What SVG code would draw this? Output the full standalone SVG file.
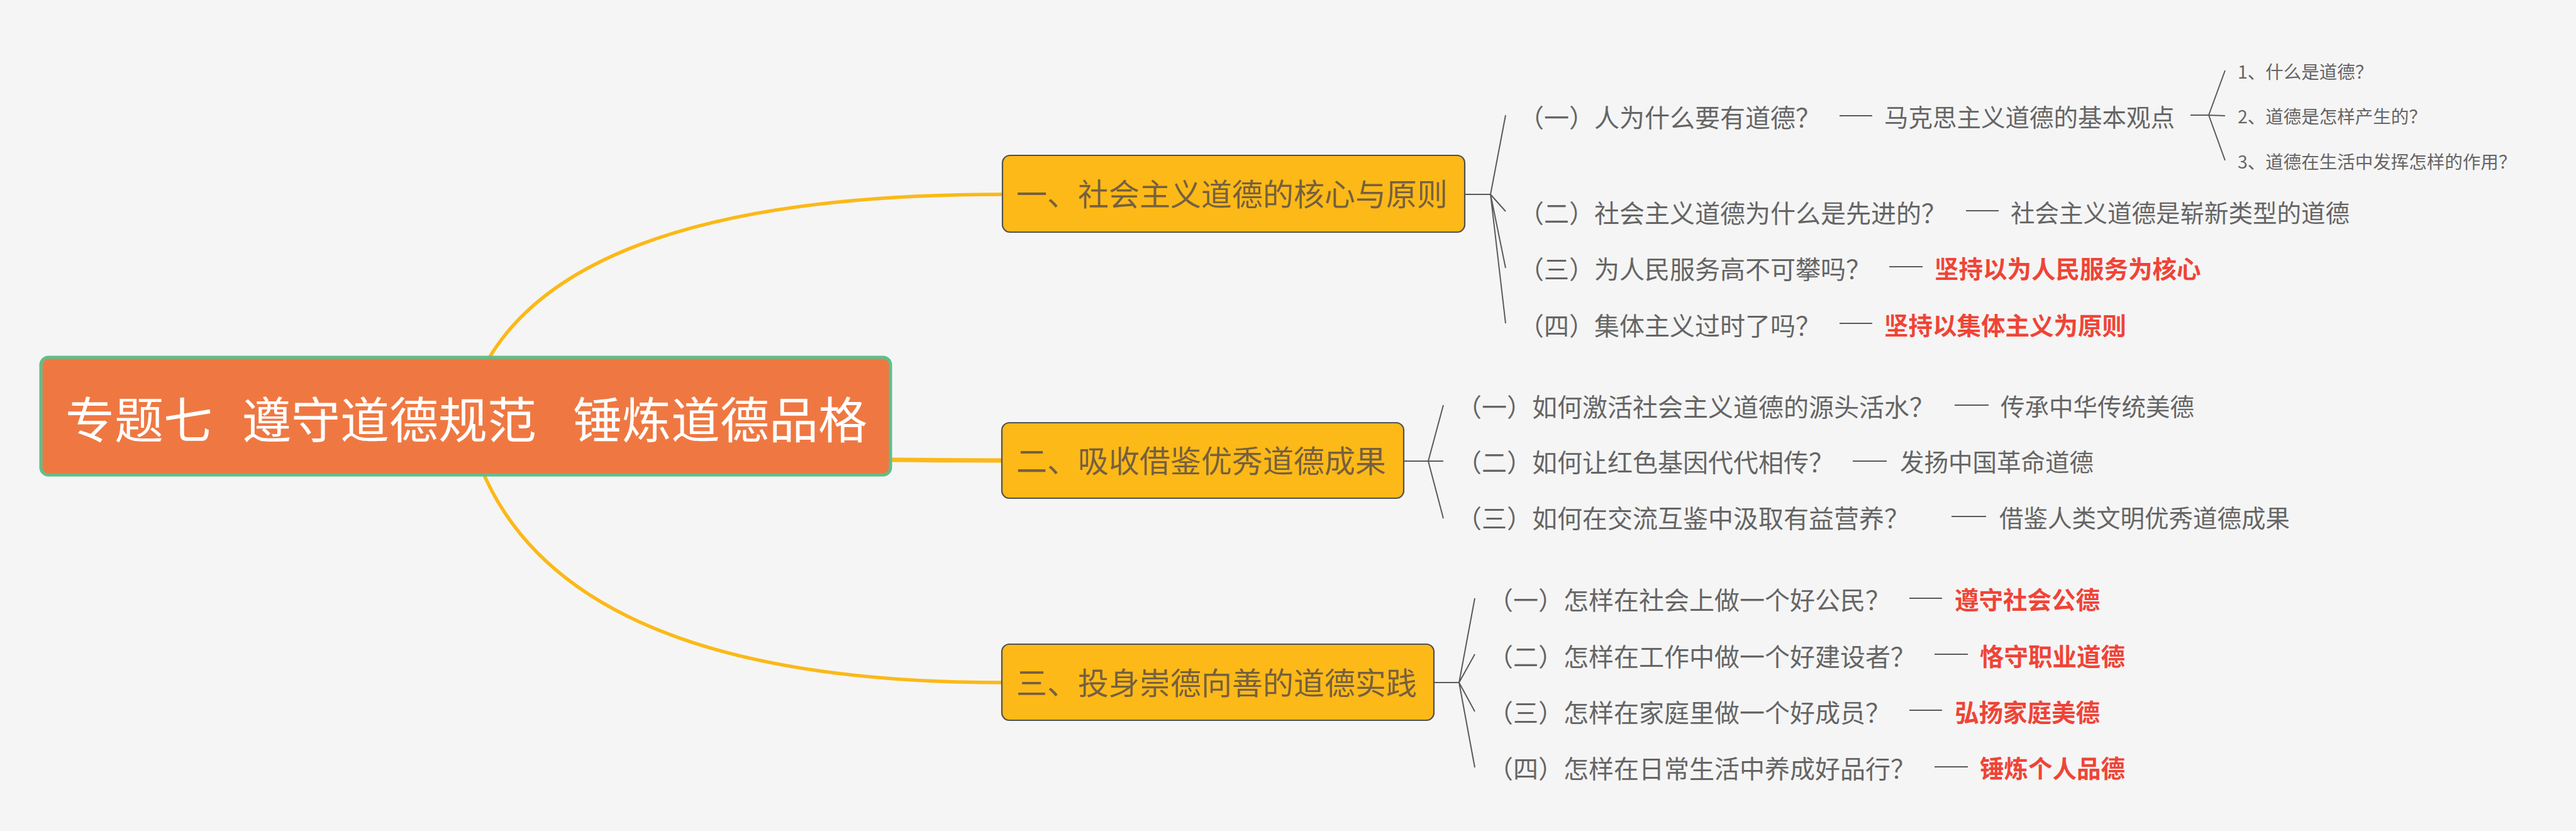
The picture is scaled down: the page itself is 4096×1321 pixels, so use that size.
<svg xmlns="http://www.w3.org/2000/svg" width="4096" height="1321" viewBox="0 0 4096 1321">
<style>
text{font-family:"Noto Sans CJK SC","Noto Sans",sans-serif;}
.root{fill:#ef7842;stroke:#5fbf8b;stroke-width:5;}
.rt{fill:#ffffff;font-size:78px;}
.main{fill:#fcb918;stroke:#505050;stroke-width:2.2;}
.mt{fill:#76603f;font-size:49px;}
.ct{fill:#656565;font-size:40px;}
.gt{fill:#656565;font-size:38.5px;}
.rd{fill:#ef4437;font-size:38.5px;font-weight:bold;}
.st{fill:#656565;font-size:28.5px;}
.curve{fill:none;stroke:#fbb918;stroke-width:5.5;}
.ln{fill:none;stroke:#5a5a5a;stroke-width:2;}
</style>
<rect width="4096" height="1321" fill="#f5f5f5"/>
<g id="connectors">
<path class="curve" d="M740 661 Q826 309 1594 309"/>
<path class="curve" style="stroke-width:7" d="M740 661 Q826 732 1594 732"/>
<path class="curve" d="M740 661 Q826 1085 1594 1085"/>
<path class="ln" d="M2329 309 H2370 M2370 309 L2394 183 M2370 309 L2394 336 M2370 309 L2394 426 M2370 309 L2394 514"/>
<path class="ln" d="M2232 733 H2271 M2271 733 L2295 644 M2271 733 L2295 733 M2271 733 L2295 824"/>
<path class="ln" d="M2280 1085 H2320 M2320 1085 L2345 951 M2320 1085 L2345 1040 M2320 1085 L2345 1131 M2320 1085 L2345 1220"/>
<path class="ln" d="M2925 184 H2977 M3126 335 H3178 M3004 424 H3057 M2925 514 H2977"/>
<path class="ln" d="M3483 183 H3512 M3512 183 L3538 112 M3512 183 L3538 184 M3512 183 L3538 255"/>
<path class="ln" d="M3108 644 H3162 M2946 733 H3000 M3103 821 H3158"/>
<path class="ln" d="M3036 951 H3088 M3076 1040 H3129 M3036 1129 H3088 M3076 1219 H3129"/>
</g>
<g id="root">
<rect class="root" x="65" y="568" width="1351" height="187" rx="12"/>
<text class="rt" y="697"><tspan x="104">专题七</tspan><tspan x="385">遵守道德规范</tspan><tspan x="911">锤炼道德品格</tspan></text>
</g>
<g id="n1">
<rect class="main" x="1594" y="247" width="735" height="122" rx="12"/>
<text class="mt" x="1616" y="327">一、社会主义道德的核心与原则</text>
</g>
<g id="n2">
<rect class="main" x="1593" y="672" width="639" height="120" rx="12"/>
<text class="mt" x="1616" y="751">二、吸收借鉴优秀道德成果</text>
</g>
<g id="n3">
<rect class="main" x="1593" y="1024" width="687" height="121" rx="12"/>
<text class="mt" x="1616" y="1104">三、投身崇德向善的道德实践</text>
</g>
<g id="n1c1"><text class="ct" x="2415" y="202">（一）人为什么要有道德？</text></g>
<g id="n1c1g"><text class="gt" x="2996" y="201">马克思主义道德的基本观点</text></g>
<g id="n1c1g1"><text class="st" x="3558" y="125">1、什么是道德？</text></g>
<g id="n1c1g2"><text class="st" x="3558" y="196">2、道德是怎样产生的？</text></g>
<g id="n1c1g3"><text class="st" x="3558" y="268">3、道德在生活中发挥怎样的作用？</text></g>
<g id="n1c2"><text class="ct" x="2415" y="354">（二）社会主义道德为什么是先进的？</text></g>
<g id="n1c2g"><text class="gt" x="3197" y="353">社会主义道德是崭新类型的道德</text></g>
<g id="n1c3"><text class="ct" x="2415" y="443">（三）为人民服务高不可攀吗？</text></g>
<g id="n1c3g"><text class="rd" x="3076" y="442">坚持以为人民服务为核心</text></g>
<g id="n1c4"><text class="ct" x="2415" y="533">（四）集体主义过时了吗？</text></g>
<g id="n1c4g"><text class="rd" x="2996" y="532">坚持以集体主义为原则</text></g>
<g id="n2c1"><text class="ct" x="2316" y="662">（一）如何激活社会主义道德的源头活水？</text></g>
<g id="n2c1g"><text class="gt" x="3181" y="661">传承中华传统美德</text></g>
<g id="n2c2"><text class="ct" x="2316" y="750">（二）如何让红色基因代代相传？</text></g>
<g id="n2c2g"><text class="gt" x="3021" y="749">发扬中国革命道德</text></g>
<g id="n2c3"><text class="ct" x="2316" y="839">（三）如何在交流互鉴中汲取有益营养？</text></g>
<g id="n2c3g"><text class="gt" x="3179" y="838">借鉴人类文明优秀道德成果</text></g>
<g id="n3c1"><text class="ct" x="2366" y="969">（一）怎样在社会上做一个好公民？</text></g>
<g id="n3c1g"><text class="rd" x="3108" y="968">遵守社会公德</text></g>
<g id="n3c2"><text class="ct" x="2366" y="1059">（二）怎样在工作中做一个好建设者？</text></g>
<g id="n3c2g"><text class="rd" x="3148" y="1058">恪守职业道德</text></g>
<g id="n3c3"><text class="ct" x="2366" y="1148">（三）怎样在家庭里做一个好成员？</text></g>
<g id="n3c3g"><text class="rd" x="3108" y="1147">弘扬家庭美德</text></g>
<g id="n3c4"><text class="ct" x="2366" y="1237">（四）怎样在日常生活中养成好品行？</text></g>
<g id="n3c4g"><text class="rd" x="3148" y="1236">锤炼个人品德</text></g>
</svg>
